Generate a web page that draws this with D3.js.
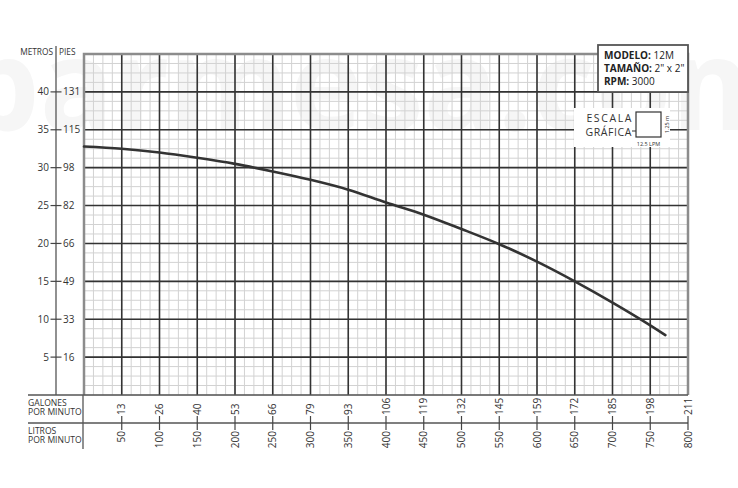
<!DOCTYPE html>
<html>
<head>
<meta charset="utf-8">
<script src="https://cdn.jsdelivr.net/npm/d3@7"></script>
<style>
  body { margin: 0; background: #fff; }
  svg { display: block; font-family: "Open Sans", sans-serif; }
</style>
</head>
<body>
<div id="chart-area"></div>
<script>
// curve data (litros por minuto vs metros)
var litros = [0, 50, 100, 150, 200, 250, 300, 350, 400, 450, 500, 550, 600, 650, 700, 750, 770];
var metros = [32.8, 32.5, 32.0, 31.3, 30.5, 29.5, 28.4, 27.1, 25.4, 23.8, 21.9, 19.9, 17.6, 15.0, 12.2, 9.2, 7.9];

// axis ticks
var metrosTicks = [5, 10, 15, 20, 25, 30, 35, 40];
var piesTicks = ["16", "33", "49", "66", "82", "98", "115", "131"];
var litrosTicks = [50, 100, 150, 200, 250, 300, 350, 400, 450, 500, 550, 600, 650, 700, 750, 800];
var galonesTicks = ["13", "26", "40", "53", "66", "79", "93", "106", "119", "132", "145", "159", "172", "185", "198", "211"];

var width = 738, height = 488;

var svg = d3.select("#chart-area")
	.append("svg")
	.attr("width", width)
	.attr("height", height);

// Scales
var x = d3.scaleLinear().domain([0, 800]).range([84, 688]);
var y = d3.scaleLinear().domain([0, 45]).range([395, 54]);

// watermark
svg.append("text")
	.attr("x", -38)
	.attr("y", 130)
	.attr("textLength", 830)
	.attr("lengthAdjust", "spacingAndGlyphs")
	.attr("font-size", "128px")
	.attr("font-weight", "bold")
	.attr("fill", "#f6f6f6")
	.text("parmesa.com");

// Minor grid
var minorX = d3.range(0, 800.01, 12.5);
var minorY = d3.range(0, 45.01, 1.25);

var grid = svg.append("g").attr("class", "grid");

grid.selectAll(".minor-x")
	.data(minorX)
	.enter()
	.append("line")
	.attr("x1", function (d) { return x(d) })
	.attr("x2", function (d) { return x(d) })
	.attr("y1", y(45))
	.attr("y2", y(0))
	.attr("stroke", "#d2d2d2")
	.attr("stroke-width", 1);

grid.selectAll(".minor-y")
	.data(minorY)
	.enter()
	.append("line")
	.attr("y1", function (d) { return y(d) })
	.attr("y2", function (d) { return y(d) })
	.attr("x1", x(0))
	.attr("x2", x(800))
	.attr("stroke", "#d2d2d2")
	.attr("stroke-width", 1);

// Major grid
grid.selectAll(".major-x")
	.data(litrosTicks.slice(0, -1))
	.enter()
	.append("line")
	.attr("x1", function (d) { return x(d) })
	.attr("x2", function (d) { return x(d) })
	.attr("y1", y(45))
	.attr("y2", y(0))
	.attr("stroke", "#333")
	.attr("stroke-width", 1.6);

grid.selectAll(".major-y")
	.data(metrosTicks)
	.enter()
	.append("line")
	.attr("y1", function (d) { return y(d) })
	.attr("y2", function (d) { return y(d) })
	.attr("x1", x(0))
	.attr("x2", x(800))
	.attr("stroke", "#333")
	.attr("stroke-width", 1.6);

// frame
svg.append("path")
	.attr("d", "M" + x(0) + "," + y(0) + "V" + y(45) + "H" + x(800) + "V" + y(0))
	.attr("fill", "none")
	.attr("stroke", "#8c8c8c")
	.attr("stroke-width", 2.5);

// Curve
var line = d3.line()
	.x(function (d, i) { return x(litros[i]) })
	.y(function (d) { return y(d) })
	.curve(d3.curveCatmullRom);

svg.append("path")
	.attr("d", line(metros))
	.attr("fill", "none")
	.attr("stroke", "#333")
	.attr("stroke-width", 2.6)
	.attr("stroke-linecap", "round");

// Left axis (metros | pies)
svg.append("line")
	.attr("x1", 56).attr("x2", 56)
	.attr("y1", 46).attr("y2", y(0))
	.attr("stroke", "#555")
	.attr("stroke-width", 1.3);

svg.append("text")
	.attr("x", 53)
	.attr("y", 55)
	.attr("text-anchor", "end")
	.attr("font-size", "8.3px")
	.attr("fill", "#333")
	.text("METROS");

svg.append("text")
	.attr("x", 59)
	.attr("y", 55)
	.attr("font-size", "8.3px")
	.attr("fill", "#333")
	.text("PIES");

var yTicks = svg.append("g").attr("class", "y-axis");

yTicks.selectAll("line")
	.data(metrosTicks)
	.enter()
	.append("line")
	.attr("x1", 50.5).attr("x2", 61.5)
	.attr("y1", function (d) { return y(d) })
	.attr("y2", function (d) { return y(d) })
	.attr("stroke", "#444")
	.attr("stroke-width", 1.2);

yTicks.selectAll(".m")
	.data(metrosTicks)
	.enter()
	.append("text")
	.attr("class", "m")
	.attr("x", 49)
	.attr("y", function (d) { return y(d) })
	.attr("dy", "0.35em")
	.attr("text-anchor", "end")
	.attr("font-size", "10px")
	.attr("fill", "#333")
	.text(function (d) { return d });

yTicks.selectAll(".p")
	.data(metrosTicks)
	.enter()
	.append("text")
	.attr("class", "p")
	.attr("x", 63)
	.attr("y", function (d) { return y(d) })
	.attr("dy", "0.35em")
	.attr("font-size", "10px")
	.attr("fill", "#333")
	.text(function (d, i) { return piesTicks[i] });

// Bottom table
svg.append("line")
	.attr("x1", 28).attr("x2", x(800))
	.attr("y1", y(0)).attr("y2", y(0))
	.attr("stroke", "#555").attr("stroke-width", 1.5);

svg.append("line")
	.attr("x1", 28).attr("x2", x(800))
	.attr("y1", 423).attr("y2", 423)
	.attr("stroke", "#555").attr("stroke-width", 1.3);

svg.append("line")
	.attr("x1", 83).attr("x2", 83)
	.attr("y1", y(0)).attr("y2", 449)
	.attr("stroke", "#555").attr("stroke-width", 1.3);

var labels = [["GALONES", 406], ["POR MINUTO", 415], ["LITROS", 434], ["POR MINUTO", 443]];
svg.selectAll(".lbl")
	.data(labels)
	.enter()
	.append("text")
	.attr("class", "lbl")
	.attr("x", 28)
	.attr("y", function (d) { return d[1] })
	.attr("font-size", "8.6px")
	.attr("fill", "#333")
	.text(function (d) { return d[0] });

var xTicks = svg.append("g").attr("class", "x-axis");

xTicks.selectAll("line")
	.data(litrosTicks)
	.enter()
	.append("line")
	.attr("x1", function (d) { return x(d) })
	.attr("x2", function (d) { return x(d) })
	.attr("y1", 416).attr("y2", 430)
	.attr("stroke", "#444")
	.attr("stroke-width", 1.2);

xTicks.selectAll(".g")
	.data(litrosTicks)
	.enter()
	.append("text")
	.attr("class", "g")
	.attr("transform", function (d) { return "translate(" + x(d) + ",415) rotate(-90)" })
	.attr("dy", "0.35em")
	.attr("font-size", "10px")
	.attr("fill", "#333")
	.text(function (d, i) { return galonesTicks[i] });

xTicks.selectAll(".l")
	.data(litrosTicks)
	.enter()
	.append("text")
	.attr("class", "l")
	.attr("transform", function (d) { return "translate(" + x(d) + ",431) rotate(-90)" })
	.attr("dy", "0.35em")
	.attr("text-anchor", "end")
	.attr("font-size", "10px")
	.attr("fill", "#333")
	.text(function (d) { return d });

// Info box
svg.append("rect")
	.attr("x", 598).attr("y", 45)
	.attr("width", 90).attr("height", 47)
	.attr("fill", "#fff")
	.attr("stroke", "#555")
	.attr("stroke-width", 1.8);

var info = [["MODELO:", " 12M", 59], ["TAMAÑO:", " 2\" x 2\"", 72], ["RPM:", " 3000", 85]];
info.forEach(function (d) {
	var t = svg.append("text")
		.attr("x", 604)
		.attr("y", d[2])
		.attr("font-size", "10px")
		.attr("fill", "#222");
	t.append("tspan").attr("font-weight", "bold").text(d[0]);
	t.append("tspan").text(d[1]);
});

// Escala grafica
svg.append("rect")
	.attr("x", 574).attr("y", 108)
	.attr("width", 96).attr("height", 39)
	.attr("fill", "#fff");

svg.append("text")
	.attr("x", 633).attr("y", 122)
	.attr("text-anchor", "end")
	.attr("font-size", "10.5px")
	.attr("letter-spacing", "1.6px")
	.attr("fill", "#333")
	.text("ESCALA");

svg.append("text")
	.attr("x", 632).attr("y", 136)
	.attr("text-anchor", "end")
	.attr("font-size", "10.5px")
	.attr("letter-spacing", "0.6px")
	.attr("fill", "#333")
	.text("GRÁFICA");

svg.append("line")
	.attr("x1", 632).attr("x2", 636)
	.attr("y1", 131).attr("y2", 131)
	.attr("stroke", "#333").attr("stroke-width", 1);

svg.append("rect")
	.attr("x", 636).attr("y", 112)
	.attr("width", 25).attr("height", 25)
	.attr("fill", "#fff")
	.attr("stroke", "#333")
	.attr("stroke-width", 1.2);

svg.append("text")
	.attr("x", 648.5).attr("y", 146)
	.attr("text-anchor", "middle")
	.attr("font-size", "5.5px")
	.attr("fill", "#333")
	.text("12.5 LPM");

svg.append("text")
	.attr("transform", "translate(667,124.5) rotate(-90)")
	.attr("text-anchor", "middle")
	.attr("dy", "0.35em")
	.attr("font-size", "5.5px")
	.attr("fill", "#333")
	.text("1.25 m");
</script>
</body>
</html>
